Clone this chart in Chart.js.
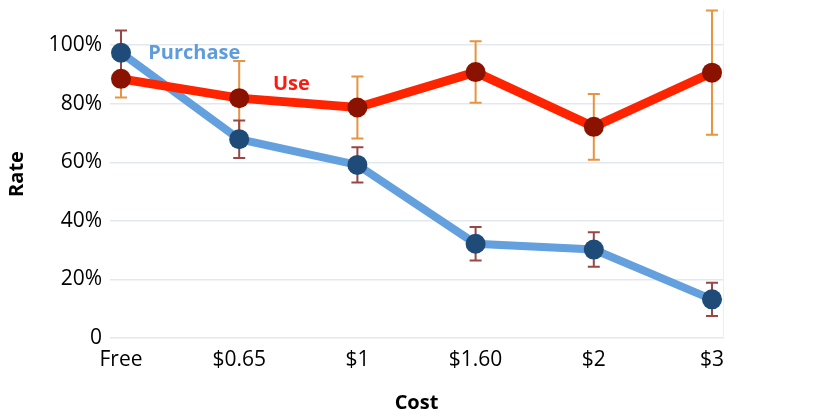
<!DOCTYPE html>
<html>
<head>
<meta charset="utf-8">
<script src="https://cdn.jsdelivr.net/npm/chart.js@4"></script>
<style>
  html, body { margin: 0; padding: 0; background: #fff; }
  #wrap { width: 834px; height: 415px; }
</style>
</head>
<body>
<div id="wrap"><canvas id="rateChart" width="834" height="415"></canvas></div>
<script>
// Data
const costs = ['Free', '$0.65', '$1', '$1.60', '$2', '$3'];
const purchaseRate = [97.4, 67.9, 59.1, 32.2, 30.2, 13.2];
const purchaseErr = [7.6, 6.4, 6.0, 5.7, 5.9, 5.7];
const useRate = [88.5, 81.9, 78.7, 90.8, 72.1, 90.6];
const useErr = [6.4, 12.7, 10.6, 10.5, 11.2, 21.2];

const FONT = "'Open Sans', 'Noto Sans', sans-serif";

function toPoints(vals) {
  return vals.map((v, i) => ({ x: i, y: v }));
}

// error bars drawn under the lines, Use first then Purchase
const errorBars = {
  id: 'errorBars',
  beforeDatasetsDraw(chart) {
    const ctx = chart.ctx;
    const xs = chart.scales.x, ys = chart.scales.y;
    const sets = [
      { vals: useRate, err: useErr, color: '#e8943e' },
      { vals: purchaseRate, err: purchaseErr, color: '#9b4646' }
    ];
    ctx.save();
    ctx.lineWidth = 2;
    sets.forEach(s => {
      ctx.strokeStyle = s.color;
      s.vals.forEach((v, i) => {
        const px = xs.getPixelForValue(i);
        const top = ys.getPixelForValue(v + s.err[i]);
        const bot = ys.getPixelForValue(v - s.err[i]);
        ctx.beginPath();
        ctx.moveTo(px, top); ctx.lineTo(px, bot);
        ctx.moveTo(px - 6, top); ctx.lineTo(px + 6, top);
        ctx.moveTo(px - 6, bot); ctx.lineTo(px + 6, bot);
        ctx.stroke();
      });
    });
    ctx.restore();
  }
};

// direct series labels instead of a legend
const seriesLabels = {
  id: 'seriesLabels',
  afterDatasetsDraw(chart) {
    const ctx = chart.ctx;
    const xs = chart.scales.x, ys = chart.scales.y;
    ctx.save();
    ctx.font = 'bold 20px ' + FONT;
    ctx.textAlign = 'left';
    ctx.textBaseline = 'alphabetic';
    ctx.fillStyle = '#5f9cdb';
    ctx.fillText('Purchase', xs.getPixelForValue(0.23), ys.getPixelForValue(95.2));
    ctx.fillStyle = '#ff1a0f';
    ctx.fillText('Use', xs.getPixelForValue(1.285), ys.getPixelForValue(84.7));
    ctx.restore();
  }
};

const ctx = document.getElementById('rateChart').getContext('2d');
const rateChart = new Chart(ctx, {
  type: 'line',
  data: {
    datasets: [
      {
        label: 'Purchase',
        data: toPoints(purchaseRate),
        borderColor: '#63a0dd',
        borderWidth: 8,
        pointRadius: 10,
        pointHoverRadius: 10,
        pointBackgroundColor: '#1f4b79',
        pointBorderWidth: 0,
        order: 2
      },
      {
        label: 'Use',
        data: toPoints(useRate),
        borderColor: '#ff2400',
        borderWidth: 9,
        pointRadius: 10,
        pointHoverRadius: 10,
        pointBackgroundColor: '#8c1200',
        pointBorderWidth: 0,
        order: 1
      }
    ]
  },
  options: {
    responsive: false,
    animation: false,
    layout: { padding: 0 },
    plugins: {
      legend: { display: false },
      tooltip: { enabled: false }
    },
    scales: {
      x: {
        type: 'linear',
        min: -0.093,
        max: 5.093,
        afterFit(scale) {
          scale.height = 77;
          scale.paddingLeft = 0;
          scale.paddingRight = 0;
        },
        grid: { display: false, drawTicks: false },
        border: { display: false },
        ticks: {
          stepSize: 1,
          includeBounds: false,
          autoSkip: false,
          maxRotation: 0,
          padding: 9,
          color: '#000',
          font: { family: FONT, size: 21 },
          callback: v => costs[v] !== undefined ? costs[v] : ''
        },
        title: {
          display: true,
          text: 'Cost',
          color: '#000',
          padding: { top: 0, bottom: 0 },
          font: { family: FONT, size: 20, weight: 'bold' }
        }
      },
      y: {
        min: 0,
        max: 112,
        afterFit(scale) {
          scale.width = 110;
          scale.paddingTop = 0;
          scale.paddingBottom = 0;
        },
        grid: { color: '#e3e8ee', lineWidth: 1.5, drawTicks: false },
        border: { display: false },
        ticks: {
          stepSize: 20,
          includeBounds: false,
          padding: 8,
          color: '#000',
          font: { family: FONT, size: 21 },
          callback: v => v === 0 ? '0' : v + '%'
        },
        title: {
          display: true,
          text: 'Rate',
          color: '#000',
          padding: { top: 5, bottom: 0 },
          font: { family: FONT, size: 20, weight: 'bold' }
        }
      },
      y2: {
        position: 'right',
        min: 0,
        max: 112,
        afterFit(scale) {
          scale.width = 111;
          scale.paddingTop = 0;
          scale.paddingBottom = 0;
        },
        grid: { display: false },
        border: { display: true, color: '#eceef2', width: 1 },
        ticks: { display: false }
      }
    }
  },
  plugins: [errorBars, seriesLabels]
});
</script>
</body>
</html>
